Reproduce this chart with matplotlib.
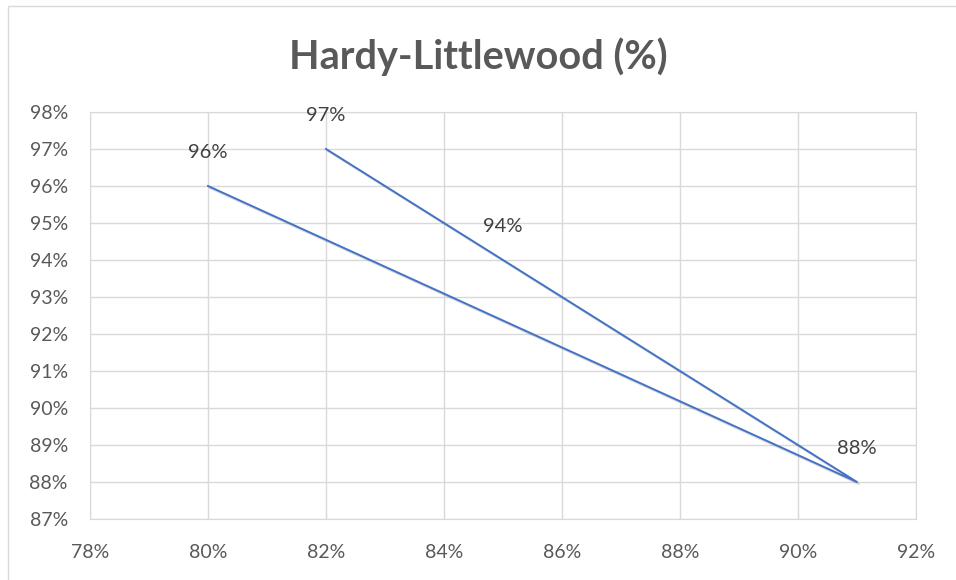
import numpy as np
import matplotlib.pyplot as plt
import matplotlib.patheffects as pe
from matplotlib.patches import Rectangle

# data (in %)
x_vals = [80, 91, 85, 82]
y_vals = [96, 88, 94, 97]
labels = ["96%", "88%", "94%", "97%"]

plt.rcParams['font.family'] = ['Lato', 'DejaVu Sans']

fig = plt.figure(figsize=(9.56, 5.8), dpi=100)
ax = fig.add_axes([90/956, 1-519/580, (916-90)/956, (519-112)/580])

grey = '#d9d9d9'
txt = '#595959'

ax.plot(x_vals, y_vals, color='#4472C4', lw=1.4, zorder=3,
        path_effects=[pe.SimpleLineShadow(offset=(1.5, -1.5), alpha=0.15, shadow_color='k'), pe.Normal()])
for xv, yv, lb in zip(x_vals, y_vals, labels):
    ax.annotate(lb, (xv, yv), xytext=(0, 24), textcoords='offset points',
                ha='center', va='center', fontsize=14.5, color='#404040')

ax.set_xlim(78, 92)
ax.set_ylim(87, 98)
ax.set_xticks(np.arange(78, 93, 2))
ax.set_yticks(np.arange(87, 99, 1))
ax.set_xticklabels([f"{v}%" for v in range(78, 93, 2)])
ax.set_yticklabels([f"{v}%" for v in range(87, 99)])
ax.grid(True, color=grey, lw=1)
ax.set_axisbelow(True)
for s in ax.spines.values():
    s.set_color(grey)
ax.tick_params(length=0, labelsize=14, colors=txt, pad=16)
ax.tick_params(axis='x', pad=18)

fig.text(0.5, 1-57/580, "Hardy-Littlewood (%)", ha='center', va='center',
         fontsize=28.5, fontweight='bold', color=txt)

fig.patches.append(Rectangle((8/956, -0.01), 1, 1-6/580+0.01, transform=fig.transFigure,
                             fill=False, edgecolor=grey, lw=1))

fig.savefig('out.png', dpi=100)
